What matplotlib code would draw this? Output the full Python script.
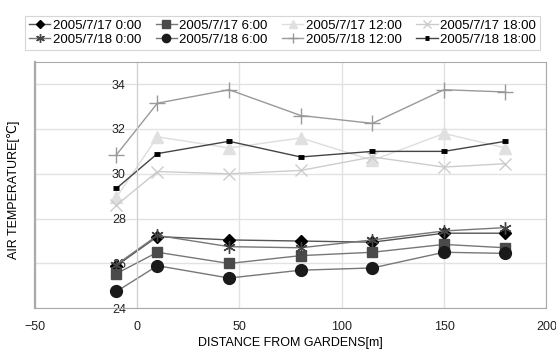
import matplotlib
matplotlib.use('Agg')
import matplotlib.pyplot as plt

plt.rcParams['font.family'] = ['Liberation Sans', 'DejaVu Sans']
plt.rcParams['font.size'] = 9

# distance from gardens [m]
dist = [-10, 10, 45, 80, 115, 150, 180]

# air temperature [C] per observation time
t_0717_00 = [25.9, 27.2, 27.05, 27.0, 26.95, 27.35, 27.35]
t_0717_06 = [25.55, 26.5, 26.0, 26.35, 26.5, 26.85, 26.7]
t_0717_12 = [28.95, 31.65, 31.15, 31.6, 30.6, 31.8, 31.15]
t_0717_18 = [28.6, 30.1, 30.0, 30.15, 30.75, 30.3, 30.45]
t_0718_00 = [25.95, 27.25, 26.75, 26.7, 27.05, 27.45, 27.6]
t_0718_06 = [24.75, 25.9, 25.35, 25.7, 25.8, 26.5, 26.45]
t_0718_12 = [30.85, 33.15, 33.75, 32.6, 32.25, 33.75, 33.65]
t_0718_18 = [29.35, 30.9, 31.45, 30.75, 31.0, 31.0, 31.45]

labels = ['2005/7/17 0:00', '2005/7/17 6:00', '2005/7/17 12:00', '2005/7/17 18:00',
          '2005/7/18 0:00', '2005/7/18 6:00', '2005/7/18 12:00', '2005/7/18 18:00']
xticks = [-50, 0, 50, 100, 150, 200]
yticks = [24, 26, 28, 30, 32, 34]

fig = plt.figure(figsize=(5.56, 3.49), dpi=100)
ax = fig.add_axes([0.0622, 0.1166, 0.9205, 0.7066])

h = []
# (data, line color, marker, marker size, face color, edge color, edge width)
styles = [
    (t_0717_00, '#555555', 'D', 6.5, '#000000', '#000000', 1),
    (t_0717_06, '#777777', 's', 7.5, '#4a4a4a', '#4a4a4a', 1),
    (t_0717_12, '#dddddd', '^', 8.5, '#e0e0e0', '#e0e0e0', 1),
    (t_0717_18, '#cccccc', 'x', 9, '#cccccc', '#cccccc', 1),
    (t_0718_00, '#777777', (6, 2, 0), 9, '#444444', '#444444', 1),
    (t_0718_06, '#777777', 'o', 8.5, '#1a1a1a', '#1a1a1a', 1),
    (t_0718_12, '#999999', '+', 11, '#999999', '#999999', 1),
    (t_0718_18, '#444444', '_', 5, '#000000', '#000000', 3.5),
]
for (vals, lc, mk, ms, fc, ec, mew), lab in zip(styles, labels):
    ln, = ax.plot(dist, vals, color=lc, lw=1.0, marker=mk, markersize=ms,
                  markerfacecolor=fc, markeredgecolor=ec, markeredgewidth=mew,
                  label=lab)
    h.append(ln)

ax.set_xlim(-50, 200)
ax.set_ylim(24, 35)
ax.set_xticks(xticks)
ax.set_yticks(yticks)
ax.grid(True, color='#e2e2e2', lw=1)
ax.set_axisbelow(True)

# vertical axis crosses at x = 0
ax.spines['left'].set_position(('data', 0))
ax.spines['left'].set_color('#d0d0d0')
for s in ['top', 'right', 'bottom']:
    ax.spines[s].set_color('#aaaaaa')
ax.axvline(-50, color='#aaaaaa', lw=1.6, clip_on=False)
ax.tick_params(length=0, colors='#222222')
ax.tick_params(axis='x', pad=9)
ax.tick_params(axis='y', pad=8)

ax.set_xlabel('DISTANCE FROM GARDENS[m]', labelpad=3)
fig.text(0.025, 0.456, 'AIR TEMPERATURE[℃]', rotation=90, ha='center', va='center')

order = [0, 4, 1, 5, 2, 6, 3, 7]
leg = fig.legend([h[i] for i in order], [labels[i] for i in order], ncol=4,
                 loc='upper left', bbox_to_anchor=(0.045, 0.955), borderaxespad=0,
                 frameon=True, fancybox=False, edgecolor='#cccccc',
                 prop={'size': 9.5},
                 handlelength=1.6, handletextpad=0.2, columnspacing=1.1,
                 borderpad=0.3, labelspacing=0.15, markerscale=0.7)
leg.get_frame().set_linewidth(0.8)

fig.savefig('out.png', dpi=100)
